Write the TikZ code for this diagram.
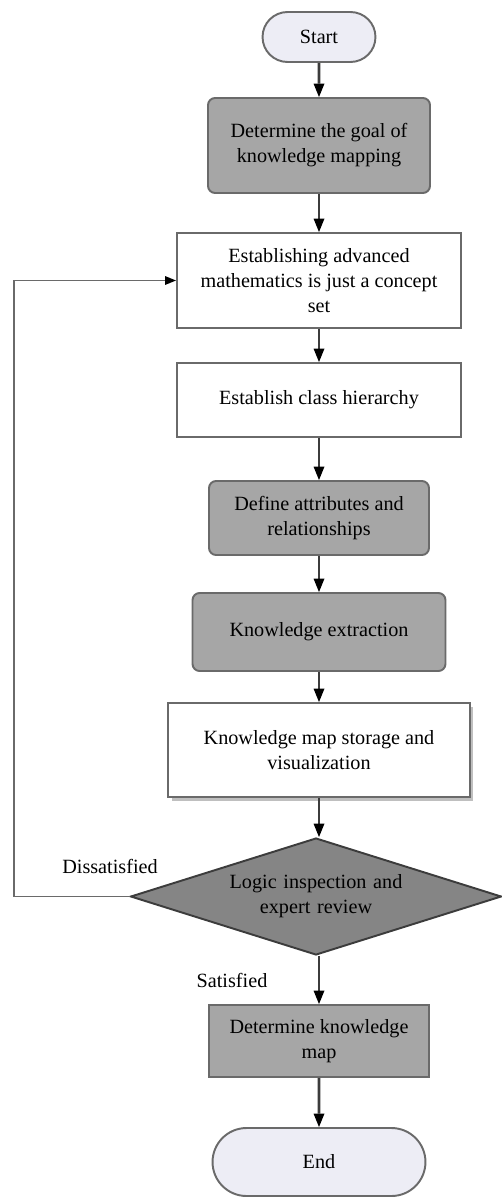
\documentclass[tikz,border=0pt]{standalone}
\usepackage{fontspec}
\setmainfont{Liberation Serif}
\usetikzlibrary{shapes.geometric,shapes.misc,arrows.meta,shadows}
\definecolor{boxgray}{HTML}{A6A6A6}
\definecolor{diagray}{HTML}{858585}
\definecolor{termfill}{HTML}{EDEDF5}
\definecolor{edgegray}{HTML}{6A6A6A}
\definecolor{arrowgray}{HTML}{3C3C3C}
\tikzset{
  base/.style={draw=edgegray, line width=1.1pt, align=center, inner sep=2pt,
    font=\fontsize{11.5}{14.2}\selectfont, text=black},
  term/.style={base, rounded rectangle, fill=termfill},
  graybox/.style={base, rectangle, rounded corners=0.14cm, fill=boxgray},
  sqgray/.style={base, rectangle, fill=boxgray},
  whitebox/.style={base, rectangle, fill=white},
  decide/.style={base, diamond, fill=diagray, draw=arrowgray, inner sep=0pt, shape aspect=3.19},
  flow/.style={draw=arrowgray, line width=1.6pt, -{Triangle[length=0.27cm, width=0.22cm, line width=0pt, fill=black, color=black]}},
  loopline/.style={draw=edgegray, line width=0.9pt, -{Triangle[length=0.22cm, width=0.17cm, color=black]}},
  lbl/.style={font=\fontsize{11.5}{14.2}\selectfont, inner sep=0pt}
}
\begin{document}
\begin{tikzpicture}[x=0.02cm, y=-0.02cm]
\useasboundingbox (0,0) rectangle (501,1200);
\node[term, minimum width=2.4cm, minimum height=1.0cm] (start) at (319,37) {Start};
\node[graybox, minimum width=4.44cm, minimum height=1.9cm] (goal) at (319,145.5) {Determine the goal of\\knowledge mapping};
\node[whitebox, minimum width=5.68cm, minimum height=1.9cm] (concept) at (319,280.5) {Establishing advanced\\mathematics is just a concept\\set};
\node[whitebox, minimum width=5.68cm, minimum height=1.48cm] (hier) at (319,400) {Establish class hierarchy};
\node[graybox, minimum width=4.4cm, minimum height=1.48cm] (attr) at (319,518) {Define attributes and\\relationships};
\node[graybox, minimum width=5.06cm, minimum height=1.56cm] (extr) at (319,632) {Knowledge extraction};
\node[whitebox, minimum width=6.04cm, minimum height=1.88cm,
  drop shadow={shadow xshift=2pt, shadow yshift=-2pt, opacity=0.25, fill=black}] (store) at (319,750) {Knowledge map storage and\\visualization};
\node[decide, text width=3.6cm, minimum width=7.42cm, minimum height=2.34cm] (check) at (316,896.5) {Logic inspection and\\expert review};
\node[sqgray, minimum width=4.4cm, minimum height=1.44cm] (final) at (319,1041) {Determine knowledge\\map};
\node[term, minimum width=4.4cm, minimum height=1.36cm] (end) at (319,1162) {End};
\node[lbl] (dis) at (110,866) {Dissatisfied};
\node[lbl] (sat) at (232,980) {Satisfied};
\coordinate (loopbot) at (14,896.5);
\coordinate (looptop) at (14,280.5);
\draw[flow] (start) -- (goal);
\draw[flow] (goal) -- (concept);
\draw[flow] (concept) -- (hier);
\draw[flow] (hier) -- (attr);
\draw[flow] (attr) -- (extr);
\draw[flow] (extr) -- (store);
\draw[flow] (store) -- (store |- check.north);
\draw[flow] (final |- check.south) -- (final);
\draw[flow] (final) -- (end);
\draw[loopline] (check.west) -- (loopbot) -- (looptop) -- (concept.west);
\end{tikzpicture}
\end{document}
